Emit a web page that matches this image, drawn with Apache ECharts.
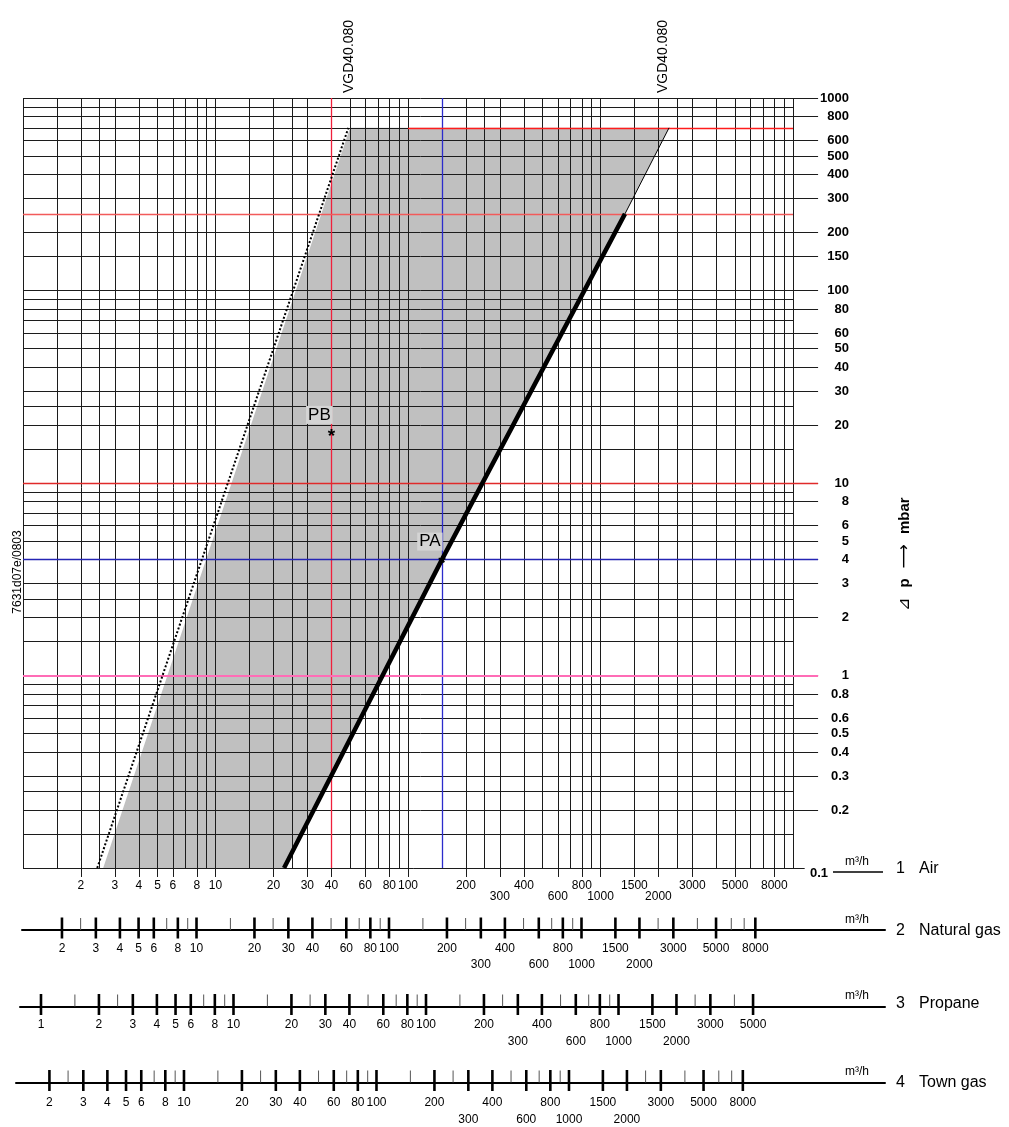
<!DOCTYPE html>
<html>
<head>
<meta charset="utf-8">
<title>VGD40.080</title>
<script src="https://cdn.jsdelivr.net/npm/echarts@6/dist/echarts.min.js"></script>
<style>
html, body { margin: 0; padding: 0; background: #fff; }
#chart { width: 1009px; height: 1127px; }
</style>
</head>
<body>
<div id="chart"></div>
<script>
// grid lines inside each decade
var gridSteps = [1, 1.5, 2, 2.5, 3, 4, 5, 6, 7, 8, 9];
var flowDecades = [1, 10, 100, 1000];
var dpDecades = [0.1, 1, 10, 100];

// 1 Air (m3/h) and Δp (mbar) labels
var airLabels = [2, 3, 4, 5, 6, 8, 10, 20, 30, 40, 60, 80, 100, 200, 300, 400, 600, 800, 1000, 1500, 2000, 3000, 5000, 8000];
var lowRowLabels = [300, 600, 1000, 2000];
var dpLabels = [1000, 800, 600, 500, 400, 300, 200, 150, 100, 80, 60, 50, 40, 30, 20, 10, 8, 6, 5, 4, 3, 2, 1, 0.8, 0.6, 0.5, 0.4, 0.3, 0.2];

// shaded working range
var rangeFlow = [2.61, 50, 2270, 1340, 150, 22.7];
var rangeDp = [0.1, 700, 700, 250, 4, 0.1];
// dotted limit
var limitFlow = [2.43, 49];
var limitDp = [0.1, 700];
// valve curve (thick) and its thin continuation
var valveFlow = [22.7, 150, 1340];
var valveDp = [0.1, 4, 250];
var valveExtFlow = [1340, 2270];
var valveExtDp = [250, 700];

// marked points
var pointNames = ['PB', 'PA'];
var pointFlow = [40, 150];
var pointDp = [18.2, 4];

// coloured reference lines
var refVFlow = [40, 150];
var refVColor = ['#f0203c', '#2c2ccc'];
var refHDp = [700, 250, 10, 4, 1];
var refHFrom = [100, 1, 1, 1, 1];
var refHTo = [10000, 10000, 13500, 13500, 13500];
var refHColor = ['#ff1c1c', '#f25a5a', '#e02a2a', '#2424b4', '#ff6cb6'];

// 2 Natural gas
var ngLabels = [2, 3, 4, 5, 6, 8, 10, 20, 30, 40, 60, 80, 100, 200, 300, 400, 600, 800, 1000, 1500, 2000, 3000, 5000, 8000];
var ngMinor = [2.5, 7, 9, 15, 25, 50, 70, 90, 150, 250, 500, 700, 900, 2500, 4000, 6000, 7000];
// 3 Propane
var prLabels = [1, 2, 3, 4, 5, 6, 8, 10, 20, 30, 40, 60, 80, 100, 200, 300, 400, 600, 800, 1000, 1500, 2000, 3000, 5000];
var prMinor = [1.5, 2.5, 7, 9, 15, 25, 50, 70, 90, 150, 250, 500, 700, 900, 2500, 4000];
// 4 Town gas
var tgLabels = [2, 3, 4, 5, 6, 8, 10, 20, 30, 40, 60, 80, 100, 200, 300, 400, 600, 800, 1000, 1500, 2000, 3000, 5000, 8000];
var tgMinor = [2.5, 7, 9, 15, 25, 50, 70, 90, 150, 250, 500, 700, 900, 2500, 4000, 6000, 7000];

var FONT = '"Liberation Sans", Arial, Helvetica, sans-serif';
var GRID_COLOR = '#1c1c1c';

function r3(v) { return Math.round(v * 1000) / 1000; }
function zip(a, b) { return a.map(function (v, i) { return [v, b[i]]; }); }

// grid lines, labelled ones stick out a bit (0.0898 / 13500 ~ 9px / 25px outside)
var gridLines = [];
flowDecades.forEach(function (d) {
  gridSteps.forEach(function (s) {
    var v = r3(d * s);
    gridLines.push({ coords: [[v, airLabels.indexOf(v) >= 0 ? 0.0898 : 0.1], [v, 1000]] });
  });
});
gridLines.push({ coords: [[10000, 0.1], [10000, 1000]] });
dpDecades.forEach(function (d) {
  gridSteps.forEach(function (s) {
    var v = r3(d * s);
    var end = dpLabels.indexOf(v) >= 0 ? 13500 : (v === 0.1 ? 11500 : 10000);
    gridLines.push({ coords: [[1, v], [end, v]] });
  });
});
gridLines.push({ coords: [[1, 1000], [13500, 1000]] });

var refLines = [];
refVFlow.forEach(function (v, i) {
  refLines.push({ coords: [[v, 0.1], [v, 1000]], lineStyle: { color: refVColor[i] } });
});
refHDp.forEach(function (v, i) {
  refLines.push({ coords: [[refHFrom[i], v], [refHTo[i], v]], lineStyle: { color: refHColor[i], width: v === 1 ? 1.8 : 1.3 } });
});

// lower gas scales: grid index, axis extent, label rows
var scales = [
  { idx: 1, labels: ngLabels, minor: ngMinor, min: 1.24, max: 37730, row1: 19, row2: 35 },
  { idx: 2, labels: prLabels, minor: prMinor, min: 0.778, max: 24230, row1: 18.5, row2: 35 },
  { idx: 3, labels: tgLabels, minor: tgMinor, min: 1.341, max: 43810, row1: 20, row2: 37.5 }
];

var xAxes = [{
  type: 'log', logBase: 10, gridIndex: 0, min: 1, max: 10000,
  axisLine: { show: false }, axisTick: { show: false }, axisLabel: { show: false }, splitLine: { show: false }
}];
var yAxes = [{
  type: 'log', logBase: 10, gridIndex: 0, min: 0.1, max: 1000,
  axisLine: { show: false }, axisTick: { show: false }, axisLabel: { show: false }, splitLine: { show: false }
}];
scales.forEach(function (sc) {
  xAxes.push({
    type: 'log', logBase: 10, gridIndex: sc.idx, min: sc.min, max: sc.max,
    axisLine: { show: true, onZero: false, lineStyle: { color: '#000', width: 2 } },
    axisTick: { show: false }, axisLabel: { show: false }, splitLine: { show: false }
  });
  yAxes.push({ type: 'value', gridIndex: sc.idx, min: 0, max: 1, show: false });
});

var solid = { opacity: 1 };

var series = [
  {
    type: 'custom', name: 'range', coordinateSystem: 'cartesian2d', silent: true, z: 1,
    data: [[10, 10]],
    renderItem: function (params, api) {
      return {
        type: 'polygon',
        shape: { points: rangeFlow.map(function (x, i) { return api.coord([x, rangeDp[i]]); }) },
        style: { fill: '#c0c0c0' }
      };
    }
  },
  {
    type: 'lines', coordinateSystem: 'cartesian2d', silent: true, z: 2, clip: false,
    lineStyle: { color: GRID_COLOR, width: 1, opacity: 1 },
    data: gridLines
  },
  {
    type: 'lines', coordinateSystem: 'cartesian2d', silent: true, z: 3, clip: false,
    lineStyle: { width: 1.3, opacity: 1 },
    data: refLines
  },
  {
    type: 'line', name: 'limit', silent: true, z: 4, symbol: 'none', clip: false,
    lineStyle: { color: '#000', width: 2, type: [2, 2] },
    data: zip(limitFlow, limitDp)
  },
  {
    type: 'line', name: 'valve', silent: true, z: 5, symbol: 'none', clip: false,
    lineStyle: { color: '#000', width: 4.5, cap: 'butt' },
    data: zip(valveFlow, valveDp)
  },
  {
    type: 'line', name: 'valveExt', silent: true, z: 5, symbol: 'none', clip: false,
    lineStyle: { color: '#000', width: 1 },
    data: zip(valveExtFlow, valveExtDp)
  },
  {
    // asterisks
    type: 'scatter', silent: true, z: 6, symbolSize: 0, clip: false, itemStyle: solid,
    data: zip(pointFlow, pointDp),
    label: { show: true, position: 'inside', offset: [0, 4], formatter: '*', color: '#000', fontSize: 19, fontWeight: 'bold', fontFamily: FONT }
  },
  {
    // point names
    type: 'scatter', silent: true, z: 7, symbolSize: 0, clip: false, itemStyle: solid,
    data: pointFlow.map(function (x, i) { return { value: [x, pointDp[i]], name: pointNames[i] }; }),
    label: {
      show: true, position: 'inside', offset: [-12, -18], formatter: '{b}', color: '#000',
      fontSize: 17, fontFamily: FONT, backgroundColor: '#d4d4d4', padding: [1, 2, 0, 2]
    }
  },
  {
    // Δp labels on the right
    type: 'scatter', silent: true, z: 6, symbolSize: 0, clip: false, itemStyle: solid,
    data: dpLabels.map(function (v) { return [10000, v]; }),
    label: {
      show: true, position: 'left', distance: 0, offset: [56, 0],
      formatter: function (p) { return String(p.value[1]); },
      color: '#000', fontSize: 13, fontWeight: 'bold', fontFamily: FONT
    }
  },
  {
    type: 'scatter', silent: true, z: 6, symbolSize: 0, clip: false, itemStyle: solid,
    data: [[10000, 0.1]],
    label: {
      show: true, position: 'right', distance: 0, offset: [17, 5], formatter: '0.1',
      color: '#000', fontSize: 13, fontWeight: 'bold', fontFamily: FONT
    }
  },
  {
    // air flow labels
    type: 'scatter', silent: true, z: 6, symbolSize: 0, clip: false, itemStyle: solid,
    data: airLabels.map(function (v) {
      return { value: [v, 0.1], label: { offset: [0, lowRowLabels.indexOf(v) >= 0 ? 29 : 18] } };
    }),
    label: {
      show: true, position: 'inside', formatter: function (p) { return String(p.value[0]); },
      color: '#000', fontSize: 12, fontFamily: FONT
    }
  }
];

scales.forEach(function (sc) {
  series.push({
    type: 'scatter', silent: true, z: 6, xAxisIndex: sc.idx, yAxisIndex: sc.idx, clip: false,
    symbol: 'rect', symbolSize: [2.6, 21], symbolOffset: [0, -2],
    itemStyle: { color: '#000', opacity: 1 },
    data: sc.labels.map(function (v) { return [v, 0]; })
  });
  series.push({
    type: 'scatter', silent: true, z: 6, xAxisIndex: sc.idx, yAxisIndex: sc.idx, clip: false,
    symbol: 'rect', symbolSize: [1, 12], symbolOffset: [0, -6],
    itemStyle: { color: '#555', opacity: 1 },
    data: sc.minor.map(function (v) { return [v, 0]; })
  });
  series.push({
    type: 'scatter', silent: true, z: 6, xAxisIndex: sc.idx, yAxisIndex: sc.idx, clip: false,
    symbolSize: 0, itemStyle: solid,
    data: sc.labels.map(function (v) {
      return { value: [v, 0], label: { offset: [0, lowRowLabels.indexOf(v) >= 0 ? sc.row2 : sc.row1] } };
    }),
    label: {
      show: true, position: 'inside', formatter: function (p) { return String(p.value[0]); },
      color: '#000', fontSize: 12, fontFamily: FONT
    }
  });
});

function txt(x, y, text, size, extra) {
  var o = {
    type: 'text', x: x, y: y, silent: true, z: 10,
    style: { text: text, fill: '#000', font: size + 'px ' + FONT, textAlign: 'left', textVerticalAlign: 'middle' }
  };
  for (var k in extra) { o[k] = extra[k]; }
  return o;
}

var graphics = [
  txt(349.5, 93, 'VGD40.080', 14, { rotation: Math.PI / 2 }),
  txt(663.5, 93, 'VGD40.080', 14, { rotation: Math.PI / 2 }),
  { type: 'text', x: 18, y: 572, rotation: Math.PI / 2, silent: true,
    style: { text: '7631d07e/0803', fill: '#000', font: '12px ' + FONT, textAlign: 'center', textVerticalAlign: 'middle' } },
  { type: 'text', x: 905, y: 554, rotation: Math.PI / 2, silent: true,
    style: {
      text: '{t|⊿}   {b|p}   {a|⟶}   {b|mbar}', textAlign: 'center', textVerticalAlign: 'middle', fill: '#000',
      rich: {
        t: { font: '16px ' + FONT, fill: '#000' },
        b: { font: 'bold 15px ' + FONT, fill: '#000' },
        a: { font: '17px "DejaVu Sans", sans-serif', fill: '#000' }
      }
    } },
  { type: 'line', silent: true, shape: { x1: 833, y1: 872, x2: 883, y2: 872 }, style: { stroke: '#000', lineWidth: 1.5 } },
  txt(845, 862, 'm³/h', 12),
  txt(845, 920, 'm³/h', 12),
  txt(845, 996, 'm³/h', 12),
  txt(845, 1072, 'm³/h', 12),
  txt(896, 869, '1', 16), txt(919, 869, 'Air', 16),
  txt(896, 931, '2', 16), txt(919, 931, 'Natural gas', 16),
  txt(896, 1004, '3', 16), txt(919, 1004, 'Propane', 16),
  txt(896, 1083, '4', 16), txt(919, 1083, 'Town gas', 16)
];

var chart = echarts.init(document.getElementById('chart'), null, { renderer: 'canvas' });
chart.setOption({
  backgroundColor: '#fff',
  animation: false,
  textStyle: { fontFamily: FONT },
  grid: [
    { left: 23, top: 98, width: 770, height: 770 },
    { left: 22, top: 900, width: 863, height: 30 },
    { left: 20, top: 976.5, width: 865, height: 30 },
    { left: 16, top: 1052.5, width: 869, height: 30 }
  ],
  xAxis: xAxes,
  yAxis: yAxes,
  series: series,
  graphic: graphics
});
</script>
</body>
</html>
